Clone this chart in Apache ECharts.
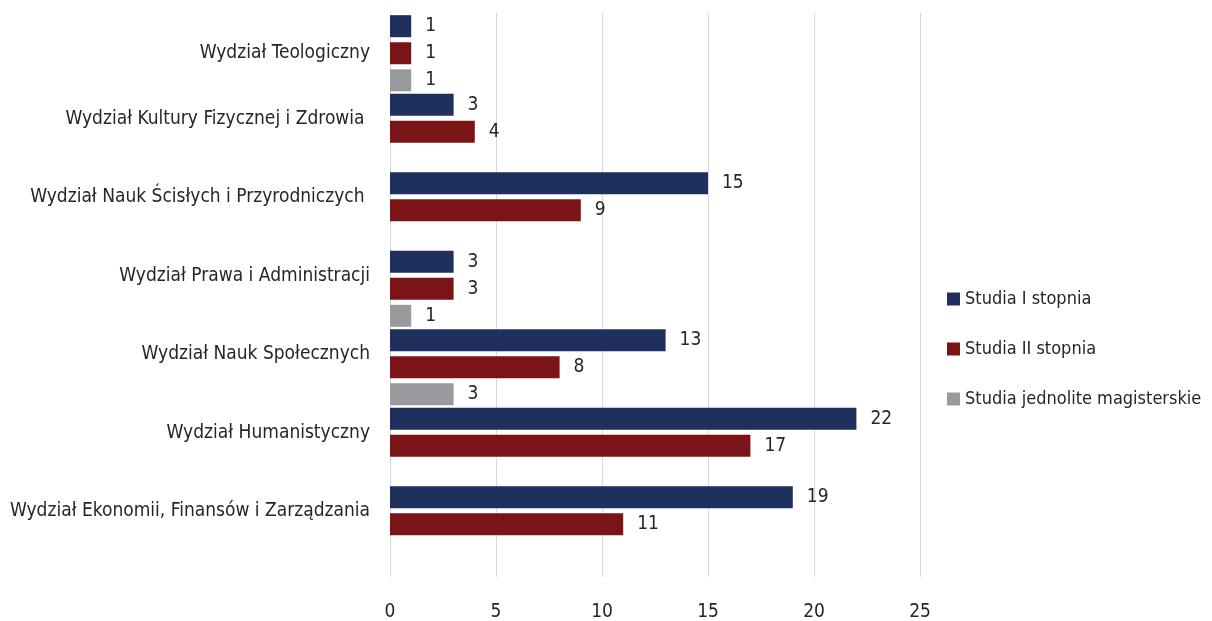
<!DOCTYPE html>
<html>
<head>
<meta charset="utf-8">
<script src="https://cdn.jsdelivr.net/npm/echarts@6/dist/echarts.min.js"></script>
<style>
  html, body { margin: 0; padding: 0; background: #fff; }
  #chart { width: 1212px; height: 621px; }
</style>
</head>
<body>
<div id="chart"></div>
<script>
// categories from top to bottom
const faculties = [
  'Wydział Teologiczny',
  'Wydział Kultury Fizycznej i Zdrowia ',
  'Wydział Nauk Ścisłych i Przyrodniczych ',
  'Wydział Prawa i Administracji',
  'Wydział Nauk Społecznych',
  'Wydział Humanistyczny',
  'Wydział Ekonomii, Finansów i Zarządzania'
];
const seriesNames = ['Studia I stopnia', 'Studia II stopnia', 'Studia jednolite magisterskie'];
const firstDegree = [1, 3, 15, 3, 13, 22, 19];
const secondDegree = [1, 4, 9, 3, 8, 17, 11];
const masters = [1, null, null, 1, 3, null, null];
const xTicks = [0, 5, 10, 15, 20, 25];

const FONT = "'DejaVu Sans Condensed', 'Liberation Sans Narrow', sans-serif";
const FS = 19;
const TXT = '#262626';
const colors = ['#1F2F5E', '#7B1416', '#9A9A9E'];

const chart = echarts.init(document.getElementById('chart'));

function barSeries(name, data, color) {
  return {
    name: name,
    type: 'bar',
    xAxisIndex: 0,
    yAxisIndex: 0,
    data: data,
    barWidth: 22,
    barGap: '23%',
    itemStyle: { color: color },
    label: {
      show: true,
      position: 'right',
      distance: 14,
      color: TXT,
      fontFamily: FONT,
      fontSize: FS
    }
  };
}

chart.setOption({
  textStyle: { fontFamily: FONT },
  color: colors,
  legend: {
    orient: 'vertical',
    left: 942,
    top: 285,
    itemWidth: 13,
    itemHeight: 13,
    itemGap: 32,
    icon: 'rect',
    textStyle: { color: TXT, fontSize: 18, fontFamily: FONT },
    data: seriesNames
  },
  grid: [
    { left: 390, right: 292, top: 14, bottom: 57.5, outerBoundsMode: 'none' },
    { left: 390, right: 292, top: 13, bottom: 44, outerBoundsMode: 'none' }
  ],
  xAxis: [
    { gridIndex: 0, type: 'value', min: 0, max: 25, interval: 5, show: false },
    {
      gridIndex: 1, type: 'value', min: xTicks[0], max: xTicks[xTicks.length - 1], interval: 5,
      axisLine: { show: false },
      axisTick: { show: false },
      splitLine: { lineStyle: { color: '#D9D9D9', width: 1 } },
      axisLabel: { color: TXT, fontSize: FS, fontFamily: FONT, margin: 26 }
    }
  ],
  yAxis: [
    {
      gridIndex: 0,
      type: 'category',
      inverse: true,
      data: faculties,
      axisLine: { show: false },
      axisTick: { show: false },
      axisLabel: {
        margin: 20,
        color: TXT,
        fontSize: FS,
        fontFamily: FONT,
        formatter: function (v) {
          return v === faculties[0] ? '{c|' + v + '}' : '{u|' + v + '}';
        },
        rich: {
          c: { color: TXT, fontSize: FS, fontFamily: FONT },
          u: { color: TXT, fontSize: FS, fontFamily: FONT, padding: [0, 0, 26, 0] }
        }
      }
    },
    {
      gridIndex: 1,
      type: 'value',
      axisLine: { show: false },
      axisTick: { show: false },
      axisLabel: { show: false },
      splitLine: { show: false }
    }
  ],
  series: [
    barSeries(seriesNames[0], firstDegree, colors[0]),
    barSeries(seriesNames[1], secondDegree, colors[1]),
    barSeries(seriesNames[2], masters, colors[2])
  ]
});
</script>
</body>
</html>
